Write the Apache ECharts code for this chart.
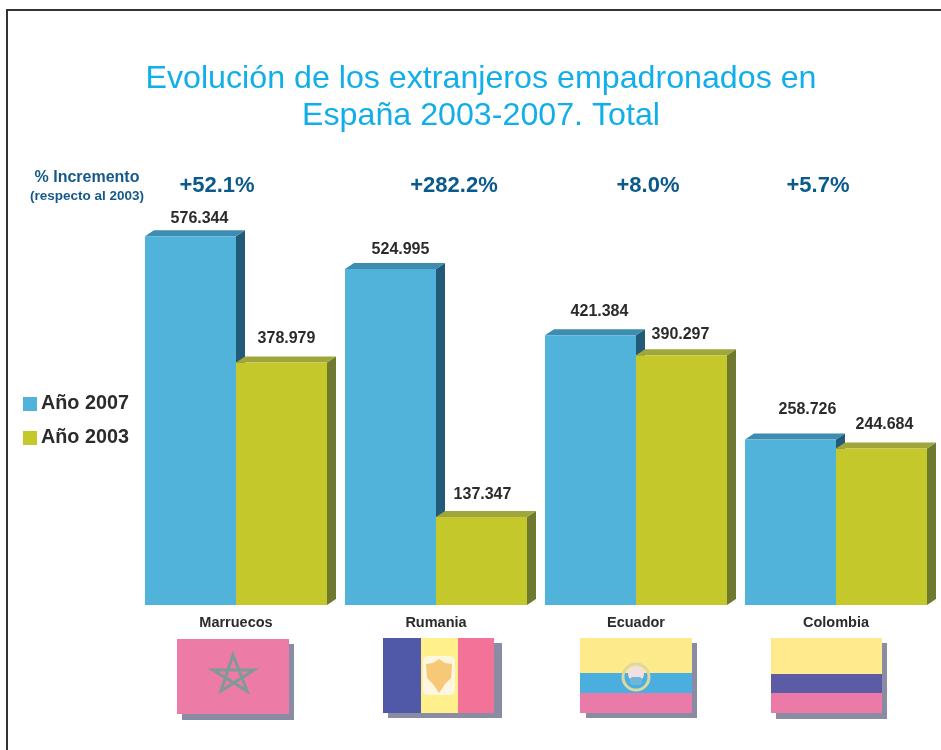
<!DOCTYPE html>
<html><head><meta charset="utf-8">
<style>html,body{margin:0;padding:0;background:#fff}#c{width:941px;height:750px}</style>
<script src="https://cdn.jsdelivr.net/npm/echarts@6/dist/echarts.min.js"></script>
</head><body><div id="c"></div>
<script>
const titleText = 'Evolución de los extranjeros empadronados en\nEspaña 2003-2007. Total';
const countries = ['Marruecos', 'Rumania', 'Ecuador', 'Colombia'];
const values2007 = [576344, 524995, 421384, 258726];
const values2003 = [378979, 137347, 390297, 244684];
const increments = ['+52.1%', '+282.2%', '+8.0%', '+5.7%'];
const seriesNames = ['Año 2007', 'Año 2003'];

const incrementX = [217, 454, 648, 818];
// label placement relative to the bar's front face: [dx, gap above the face]
const labelNudge2007 = [[9, 18], [10, 19], [9, 24], [17, 30]];
const labelNudge2003 = [[5, 24], [1, 23], [-1, 21], [3, 24]];
const FONT = '"Liberation Sans", Arial, sans-serif';

function fmt(v) { return String(v).replace(/\B(?=(\d{3})+$)/g, '.'); }

function bar3d(side, colors, nudge) {
  return function (params, api) {
    const i = api.value(0);
    const base = api.coord([i, 0]);
    const top = api.coord([i, api.value(1)]);
    const w = api.size([1, 0])[0] * 0.455;
    const x0 = side < 0 ? base[0] - w : base[0];
    const x1 = x0 + w, y0 = top[1], y1 = base[1], dx = 9, dy = 6;
    return {
      type: 'group',
      children: [
        { type: 'polygon', shape: { points: [[x1, y0], [x1 + dx, y0 - dy], [x1 + dx, y1 - dy], [x1, y1]] }, style: { fill: colors.side } },
        { type: 'polygon', shape: { points: [[x0, y0], [x0 + dx, y0 - dy], [x1 + dx, y0 - dy], [x1, y0]] }, style: { fill: colors.top } },
        { type: 'rect', shape: { x: x0, y: y0, width: w, height: y1 - y0 }, style: { fill: colors.face } },
        { type: 'text', style: { x: (x0 + x1) / 2 + nudge[i][0], y: y0 - nudge[i][1], text: fmt(api.value(1)), align: 'center', verticalAlign: 'middle', fill: '#2b2b2b', font: 'bold 16px ' + FONT } }
      ]
    };
  };
}

function txt(x, y, text, font, fill) {
  return { type: 'text', x, y, style: { text, font: font + ' ' + FONT, fill, align: 'center', verticalAlign: 'middle' } };
}
function rect(x, y, w, h, fill) {
  return { type: 'rect', shape: { x, y, width: w, height: h }, style: { fill } };
}
const shadow = '#8a8ca3';
const graphics = [
  rect(6, 9, 935, 2, '#333333'), rect(6, 9, 2, 741, '#333333'),
  txt(87, 178, '% Incremento', 'bold 16px', '#15598a'),
  txt(87, 196, '(respecto al 2003)', 'bold 13.5px', '#15598a'),
  // Morocco
  rect(182, 644, 112, 76, shadow), rect(177, 639, 112, 75, '#ec7ba6'),
  { type: 'polygon', shape: { points: [[233, 655], [247, 691], [213, 670], [254, 670], [221, 691]] }, style: { fill: 'none', stroke: '#7f9a98', lineWidth: 3 } },
  // Romania
  rect(388, 643, 114, 75, shadow), rect(383, 638, 38, 75, '#4f59a7'), rect(421, 638, 37, 75, '#fff08c'), rect(458, 638, 36, 75, '#f37298'),
  { type: 'rect', shape: { x: 423, y: 656, width: 32, height: 39, r: 5 }, style: { fill: '#fdf6e0' } },
  { type: 'polygon', shape: { points: [[439, 659], [445, 663], [452, 664], [451, 678], [445, 684], [439, 693], [433, 684], [427, 678], [426, 664], [433, 663]] }, style: { fill: '#f7c878' } },
  // Ecuador
  rect(586, 643, 111, 75, shadow), rect(580, 638, 112, 35, '#fdeb8b'), rect(580, 673, 112, 20, '#4aaede'), rect(580, 693, 112, 20, '#ea7aa8'),
  { type: 'circle', shape: { cx: 636, cy: 677, r: 13 }, style: { fill: 'none', stroke: '#dcd8a0', lineWidth: 3 } },
  { type: 'circle', shape: { cx: 636, cy: 674, r: 8 }, style: { fill: '#f3dfe2' } },
  { type: 'rect', shape: { x: 630, y: 677, width: 12, height: 8, r: 3 }, style: { fill: '#6fb6d8' } },
  // Colombia
  rect(776, 643, 111, 76, shadow), rect(771, 638, 111, 36, '#ffeb8d'), rect(771, 674, 111, 19, '#5b5ba6'), rect(771, 693, 111, 20, '#ec7aa6')
];
increments.forEach((t, i) => graphics.push(txt(incrementX[i], 186, t, 'bold 22px', '#0b5a8c')));

const chart = echarts.init(document.getElementById('c'), null, { renderer: 'canvas' });
chart.setOption({
  animation: false,
  backgroundColor: '#ffffff',
  title: {
    text: titleText, left: 476, top: 56, textAlign: 'center',
    textStyle: { fontFamily: FONT, fontSize: 32.2, fontWeight: 'normal', color: '#12aeea', lineHeight: 37 }
  },
  legend: {
    orient: 'vertical', left: 18, top: 389, itemWidth: 14, itemHeight: 14, itemGap: 14,
    icon: 'rect', data: seriesNames,
    textStyle: { fontFamily: FONT, fontSize: 19.8, fontWeight: 'bold', color: '#2b2b2b', padding: [0, 0, 0, -1] }
  },
  grid: { left: 136, right: 5, top: 221, bottom: 145 },
  xAxis: {
    type: 'category', data: countries,
    axisLine: { show: false }, axisTick: { show: false },
    axisLabel: { fontFamily: FONT, fontSize: 14.5, fontWeight: 'bold', color: '#2b2b2b', margin: 10 }
  },
  yAxis: { type: 'value', min: 0, max: 600000, show: false },
  series: [
    {
      name: seriesNames[0], type: 'custom', clip: false,
      itemStyle: { color: '#52b3da' },
      renderItem: bar3d(-1, { face: '#52b3da', top: '#3e8cb0', side: '#225a78' }, labelNudge2007),
      encode: { x: 0, y: 1 },
      data: values2007.map((v, i) => [i, v])
    },
    {
      name: seriesNames[1], type: 'custom', clip: false,
      itemStyle: { color: '#c4c82a' },
      renderItem: bar3d(1, { face: '#c4c82a', top: '#9fa63c', side: '#6f7a30' }, labelNudge2003),
      encode: { x: 0, y: 1 },
      data: values2003.map((v, i) => [i, v])
    }
  ],
  graphic: graphics
});
</script></body></html>
